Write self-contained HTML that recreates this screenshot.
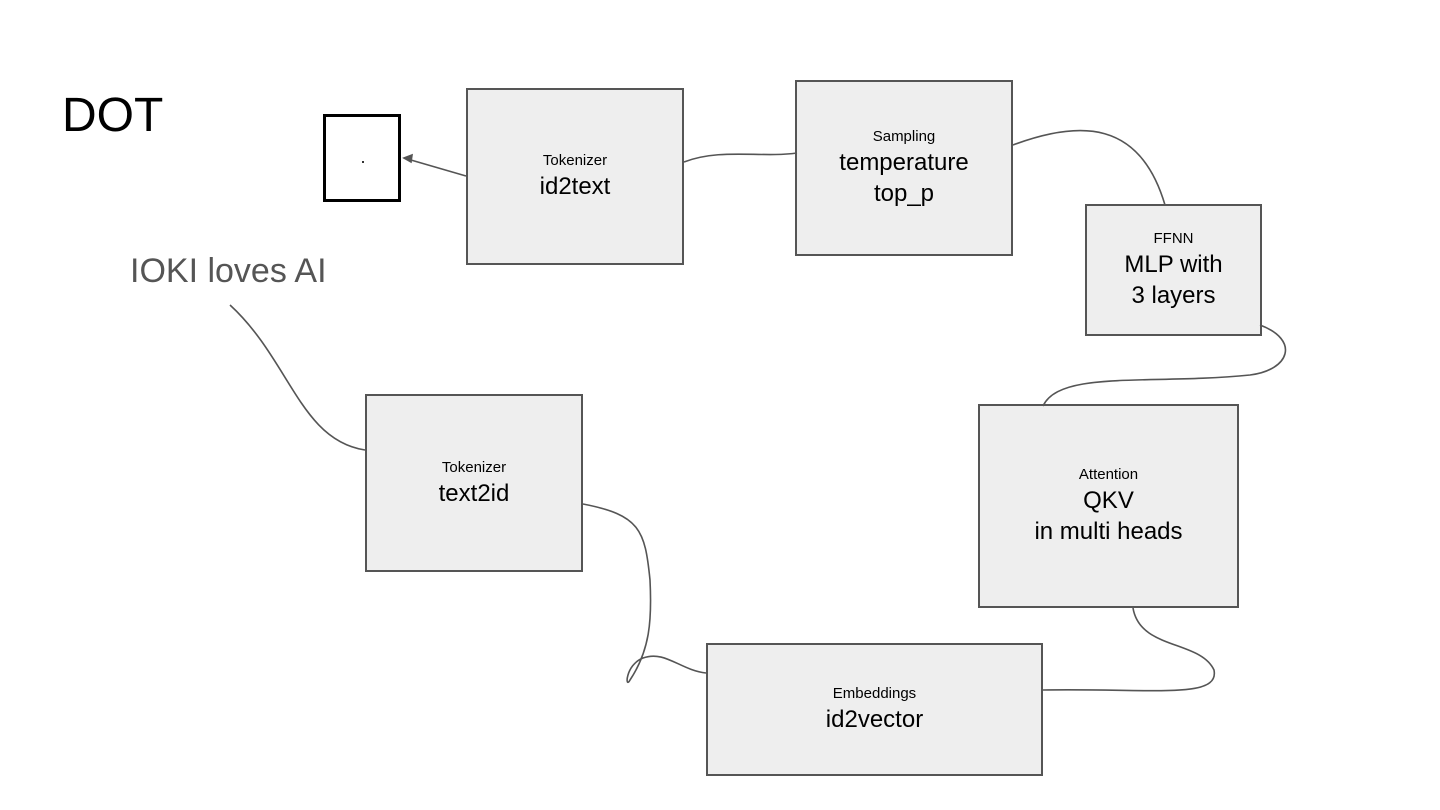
<!DOCTYPE html>
<html><head><style>
body{margin:0;width:1440px;height:810px;background:#fff;position:relative;overflow:hidden;font-family:"Liberation Sans",sans-serif}
.b{position:absolute;background:#eeeeee;border:2px solid #555;box-sizing:border-box;display:flex;flex-direction:column;align-items:center;justify-content:center;text-align:center;color:#000}
.s{font-size:15px;line-height:20px}
.l{font-size:24px;line-height:31px}
svg{position:absolute;left:0;top:0}
</style></head><body>
<div style="position:absolute;left:62px;top:88px;font-size:48px;">DOT</div>
<div style="position:absolute;left:130px;top:252px;font-size:34px;color:#555">IOKI loves AI</div>
<div style="position:absolute;left:323px;top:114px;width:78px;height:88px;border:3px solid #000;box-sizing:border-box"></div>
<div style="position:absolute;left:362px;top:161px;width:2px;height:2px;background:#333"></div>
<div class="b" style="left:466px;top:88px;width:218px;height:177px"><div class="s">Tokenizer</div><div class="l">id2text</div></div>
<div class="b" style="left:795px;top:80px;width:218px;height:176px"><div class="s">Sampling</div><div class="l">temperature<br>top_p</div></div>
<div class="b" style="left:1085px;top:204px;width:177px;height:132px"><div class="s">FFNN</div><div class="l">MLP with<br>3 layers</div></div>
<div class="b" style="left:978px;top:404px;width:261px;height:204px"><div class="s">Attention</div><div class="l">QKV<br>in multi heads</div></div>
<div class="b" style="left:706px;top:643px;width:337px;height:133px"><div class="s">Embeddings</div><div class="l">id2vector</div></div>
<div class="b" style="left:365px;top:394px;width:218px;height:178px"><div class="s">Tokenizer</div><div class="l">text2id</div></div>
<svg width="1440" height="810" fill="none" stroke="#555" stroke-width="1.6">
<path d="M466 176 L404 158"/>
<path d="M404 158 L412 155 L411 162 Z" fill="#555"/>
<path d="M684 162 C720 148 760 158 797 153"/>
<path d="M1013 145 C1080 120 1140 120 1165 205"/>
<path d="M1260 325 C1300 340 1290 370 1250 375 C1150 385 1060 370 1043 406"/>
<path d="M1133 608 C1140 650 1200 640 1214 670 C1220 700 1150 688 1043 690"/>
<path d="M706 673 C680 670 665 650 643 658 C625 665 625 690 630 680 C650 650 652 620 650 580 C645 530 640 515 583 504"/>
<path d="M365 450 C300 440 290 360 230 305"/>
</svg>
</body></html>
